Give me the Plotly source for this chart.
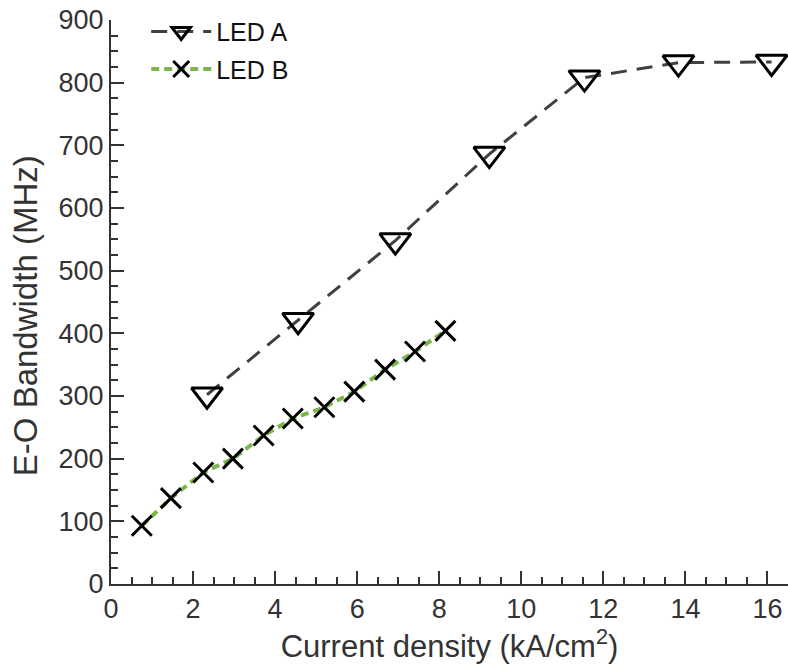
import plotly.graph_objects as go

# Data
led_a_x = [2.34, 4.56, 6.93, 9.22, 11.54, 13.83, 16.1]
led_a_y = [302, 421, 548, 686, 808, 832, 833]
led_b_x = [0.75, 1.46, 2.25, 2.97, 3.72, 4.43, 5.2, 5.93, 6.68, 7.41, 8.15]
led_b_y = [93, 137, 178, 200, 237, 264, 282, 307, 342, 371, 404]

x_ticks = [0, 2, 4, 6, 8, 10, 12, 14, 16]
y_ticks = [0, 100, 200, 300, 400, 500, 600, 700, 800, 900]

FONT = "Liberation Sans, Arial, Helvetica, sans-serif"
AX = "#333333"

fig = go.Figure()
fig.add_trace(go.Scatter(
    x=led_a_x, y=led_a_y, name="LED A", mode="lines+markers", legendgroup="a",
    line=dict(color="#404040", width=3, dash="16px,10px"),
    marker=dict(symbol="triangle-down-open", size=27, color="black",
                line=dict(color="black", width=3)),
    cliponaxis=False,
))
fig.add_trace(go.Scatter(
    x=led_b_x, y=led_b_y, name="LED B", mode="lines+markers", legendgroup="b",
    line=dict(color="#7ab648", width=4, dash="8px,5px"),
    marker=dict(symbol="x-thin-open", size=20, color="black",
                line=dict(color="black", width=3)),
    cliponaxis=False,
))

fig.update_layout(
    width=788, height=665,
    margin=dict(l=111, r=0, t=20, b=81, autoexpand=False),
    paper_bgcolor="white", plot_bgcolor="white",
    font=dict(family=FONT, size=26, color=AX),
    showlegend=True,
    legend=dict(x=0.052, y=1.02, xanchor="left", yanchor="top",
                bgcolor="rgba(0,0,0,0)", font=dict(size=25, color="#111"),
                itemwidth=60, tracegroupgap=2),
    xaxis=dict(
        range=[0, 16.5], tickvals=x_ticks, ticks="inside", ticklen=13,
        tickwidth=2, tickcolor=AX, showline=True, linecolor=AX, linewidth=2,
        showgrid=False, zeroline=False, automargin=False,
        minor=dict(dtick=0.5, tick0=0, ticks="inside", ticklen=7, tickwidth=2, tickcolor=AX),
        title=dict(text="Current density (kA/cm<sup>2</sup>)", standoff=12,
                   font=dict(size=31, color=AX)),
        tickfont=dict(size=27, color=AX),
    ),
    yaxis=dict(
        range=[0, 900], tickvals=y_ticks, ticks="inside", ticklen=13,
        tickwidth=2, tickcolor=AX, showline=True, linecolor=AX, linewidth=2,
        showgrid=False, zeroline=False, automargin=False,
        minor=dict(dtick=25, tick0=0, ticks="inside", ticklen=7, tickwidth=2, tickcolor=AX),
        title=dict(text="E-O Bandwidth (MHz)&nbsp;&nbsp;&nbsp;", standoff=11,
                   font=dict(size=33, color=AX)),
        tickfont=dict(size=27, color=AX),
    ),
)

fig.write_html(
    "out.html",
    config={"displayModeBar": False},
    post_script="document.body.style.margin='0px';document.body.style.overflow='hidden';",
)
